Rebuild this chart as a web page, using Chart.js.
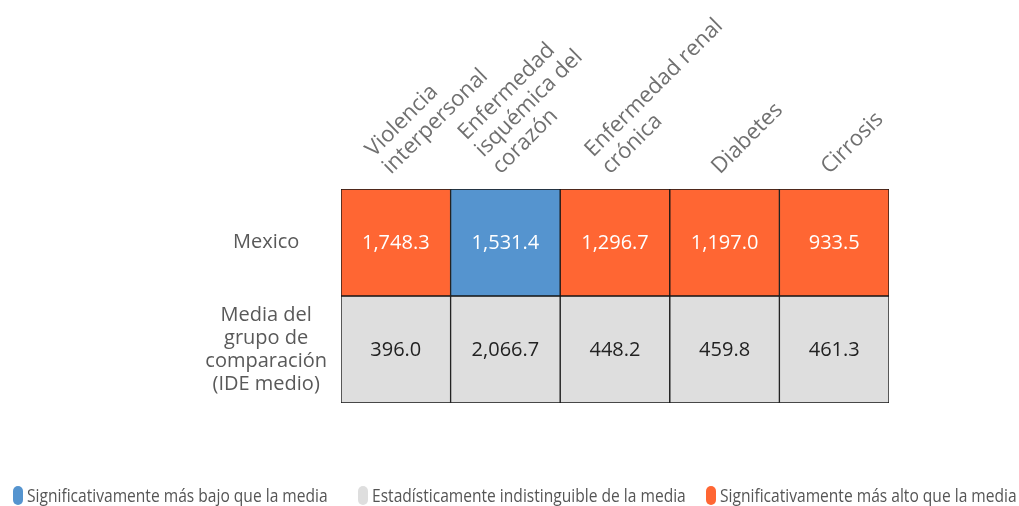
<!DOCTYPE html>
<html>
<head>
<meta charset="utf-8">
<script src="https://cdn.jsdelivr.net/npm/chart.js@4.4.1/dist/chart.umd.min.js"></script>
<style>
  body { margin: 0; background: #fff; }
  #wrap { position: relative; width: 1019px; height: 506px; }
  #legend { position: absolute; left: 0; top: 485px; width: 1019px; height: 21px;
            font-family: "Open Sans", sans-serif; font-size: 19px; color: #555; }
  #legend .item { position: absolute; top: 0; height: 21px; white-space: nowrap; }
  #legend .box { position: absolute; left: 0; top: 1px; width: 10px; height: 19px; border-radius: 5px; }
  #legend .txt { position: absolute; left: 14px; top: -3px; transform: scaleX(0.82); transform-origin: left center; }
</style>
</head>
<body>
<div id="wrap">
  <canvas id="grid" width="1019" height="506"></canvas>
  <div id="legend"></div>
</div>
<script>
// columns (causes), rows and cell values
const causes = [
  ['Violencia', 'interpersonal'],
  ['Enfermedad', 'isquémica del', 'corazón'],
  ['Enfermedad renal', 'crónica'],
  ['Diabetes'],
  ['Cirrosis']
];
const rowLabels = [
  ['Mexico'],
  ['Media del', 'grupo de', 'comparación', '(IDE medio)']
];
const mexicoValues = [1748.3, 1531.4, 1296.7, 1197.0, 933.5];
const groupValues = [396.0, 2066.7, 448.2, 459.8, 461.3];
// 0 = lower, 1 = indistinguishable, 2 = higher
const mexicoStatus = [2, 0, 2, 2, 2];
const groupStatus = [1, 1, 1, 1, 1];

const legendLabels = [
  'Significativamente más bajo que la media',
  'Estadísticamente indistinguible de la media',
  'Significativamente más alto que la media'
];
const legendLeft = [13, 358, 706];
const statusColors = ['#5594cf', '#dedede', '#ff6633'];
const textColors = ['#ffffff', '#222222', '#ffffff'];

const values = [mexicoValues, groupValues];
const statuses = [mexicoStatus, groupStatus];

const fmt = new Intl.NumberFormat('en-US', { minimumFractionDigits: 1, maximumFractionDigits: 1 });

const cellText = {
  id: 'cellText',
  afterDatasetsDraw(chart) {
    const ctx = chart.ctx;
    ctx.save();
    ctx.font = '20px "Open Sans"';
    ctx.textAlign = 'center';
    ctx.textBaseline = 'middle';
    chart.data.datasets.forEach((ds, r) => {
      chart.getDatasetMeta(r).data.forEach((bar, c) => {
        ctx.fillStyle = textColors[statuses[r][c]];
        ctx.fillText(fmt.format(values[r][c]), bar.x, (bar.y + bar.base) / 2 + 1);
      });
    });
    ctx.restore();
  }
};

new Chart(document.getElementById('grid'), {
  type: 'bar',
  data: {
    labels: causes,
    datasets: rowLabels.map((name, r) => ({
      label: name.join(' '),
      data: causes.map(() => [r, r + 1]),
      backgroundColor: statuses[r].map(s => statusColors[s]),
      borderColor: '#151515',
      borderWidth: 1,
      borderSkipped: false,
      barPercentage: 1,
      categoryPercentage: 1,
      grouped: false
    }))
  },
  options: {
    responsive: false,
    animation: false,
    layout: { padding: { left: 0, right: 130, top: 0, bottom: 103 } },
    plugins: {
      legend: { display: false },
      tooltip: { enabled: false }
    },
    scales: {
      x: {
        position: 'top',
        grid: { display: false, drawTicks: false },
        border: { display: false },
        ticks: {
          autoSkip: false,
          minRotation: 45,
          maxRotation: 45,
          padding: 10,
          labelOffset: 8,
          color: '#707070',
          font: { family: 'Open Sans', size: 22, lineHeight: 1.1 }
        },
        afterFit(scale) { scale.height = 189; }
      },
      y: {
        min: 0,
        max: 2,
        reverse: true,
        grid: { display: false, drawTicks: false },
        border: { display: false },
        afterBuildTicks(axis) {
          axis.ticks = rowLabels.map((_, i) => ({ value: i + 0.5 }));
        },
        ticks: {
          crossAlign: 'center',
          padding: 14,
          color: '#595959',
          font: { family: 'Open Sans', size: 20, lineHeight: 1.15 },
          callback: (v) => rowLabels[Math.floor(v)]
        },
        afterFit(scale) { scale.width = 341; }
      }
    }
  },
  plugins: [cellText]
});

const legend = document.getElementById('legend');
legendLabels.forEach((text, i) => {
  const item = document.createElement('div');
  item.className = 'item';
  item.style.left = legendLeft[i] + 'px';
  const box = document.createElement('span');
  box.className = 'box';
  box.style.background = statusColors[i];
  const label = document.createElement('span');
  label.className = 'txt';
  label.textContent = text;
  item.appendChild(box);
  item.appendChild(label);
  legend.appendChild(item);
});
</script>
</body>
</html>
